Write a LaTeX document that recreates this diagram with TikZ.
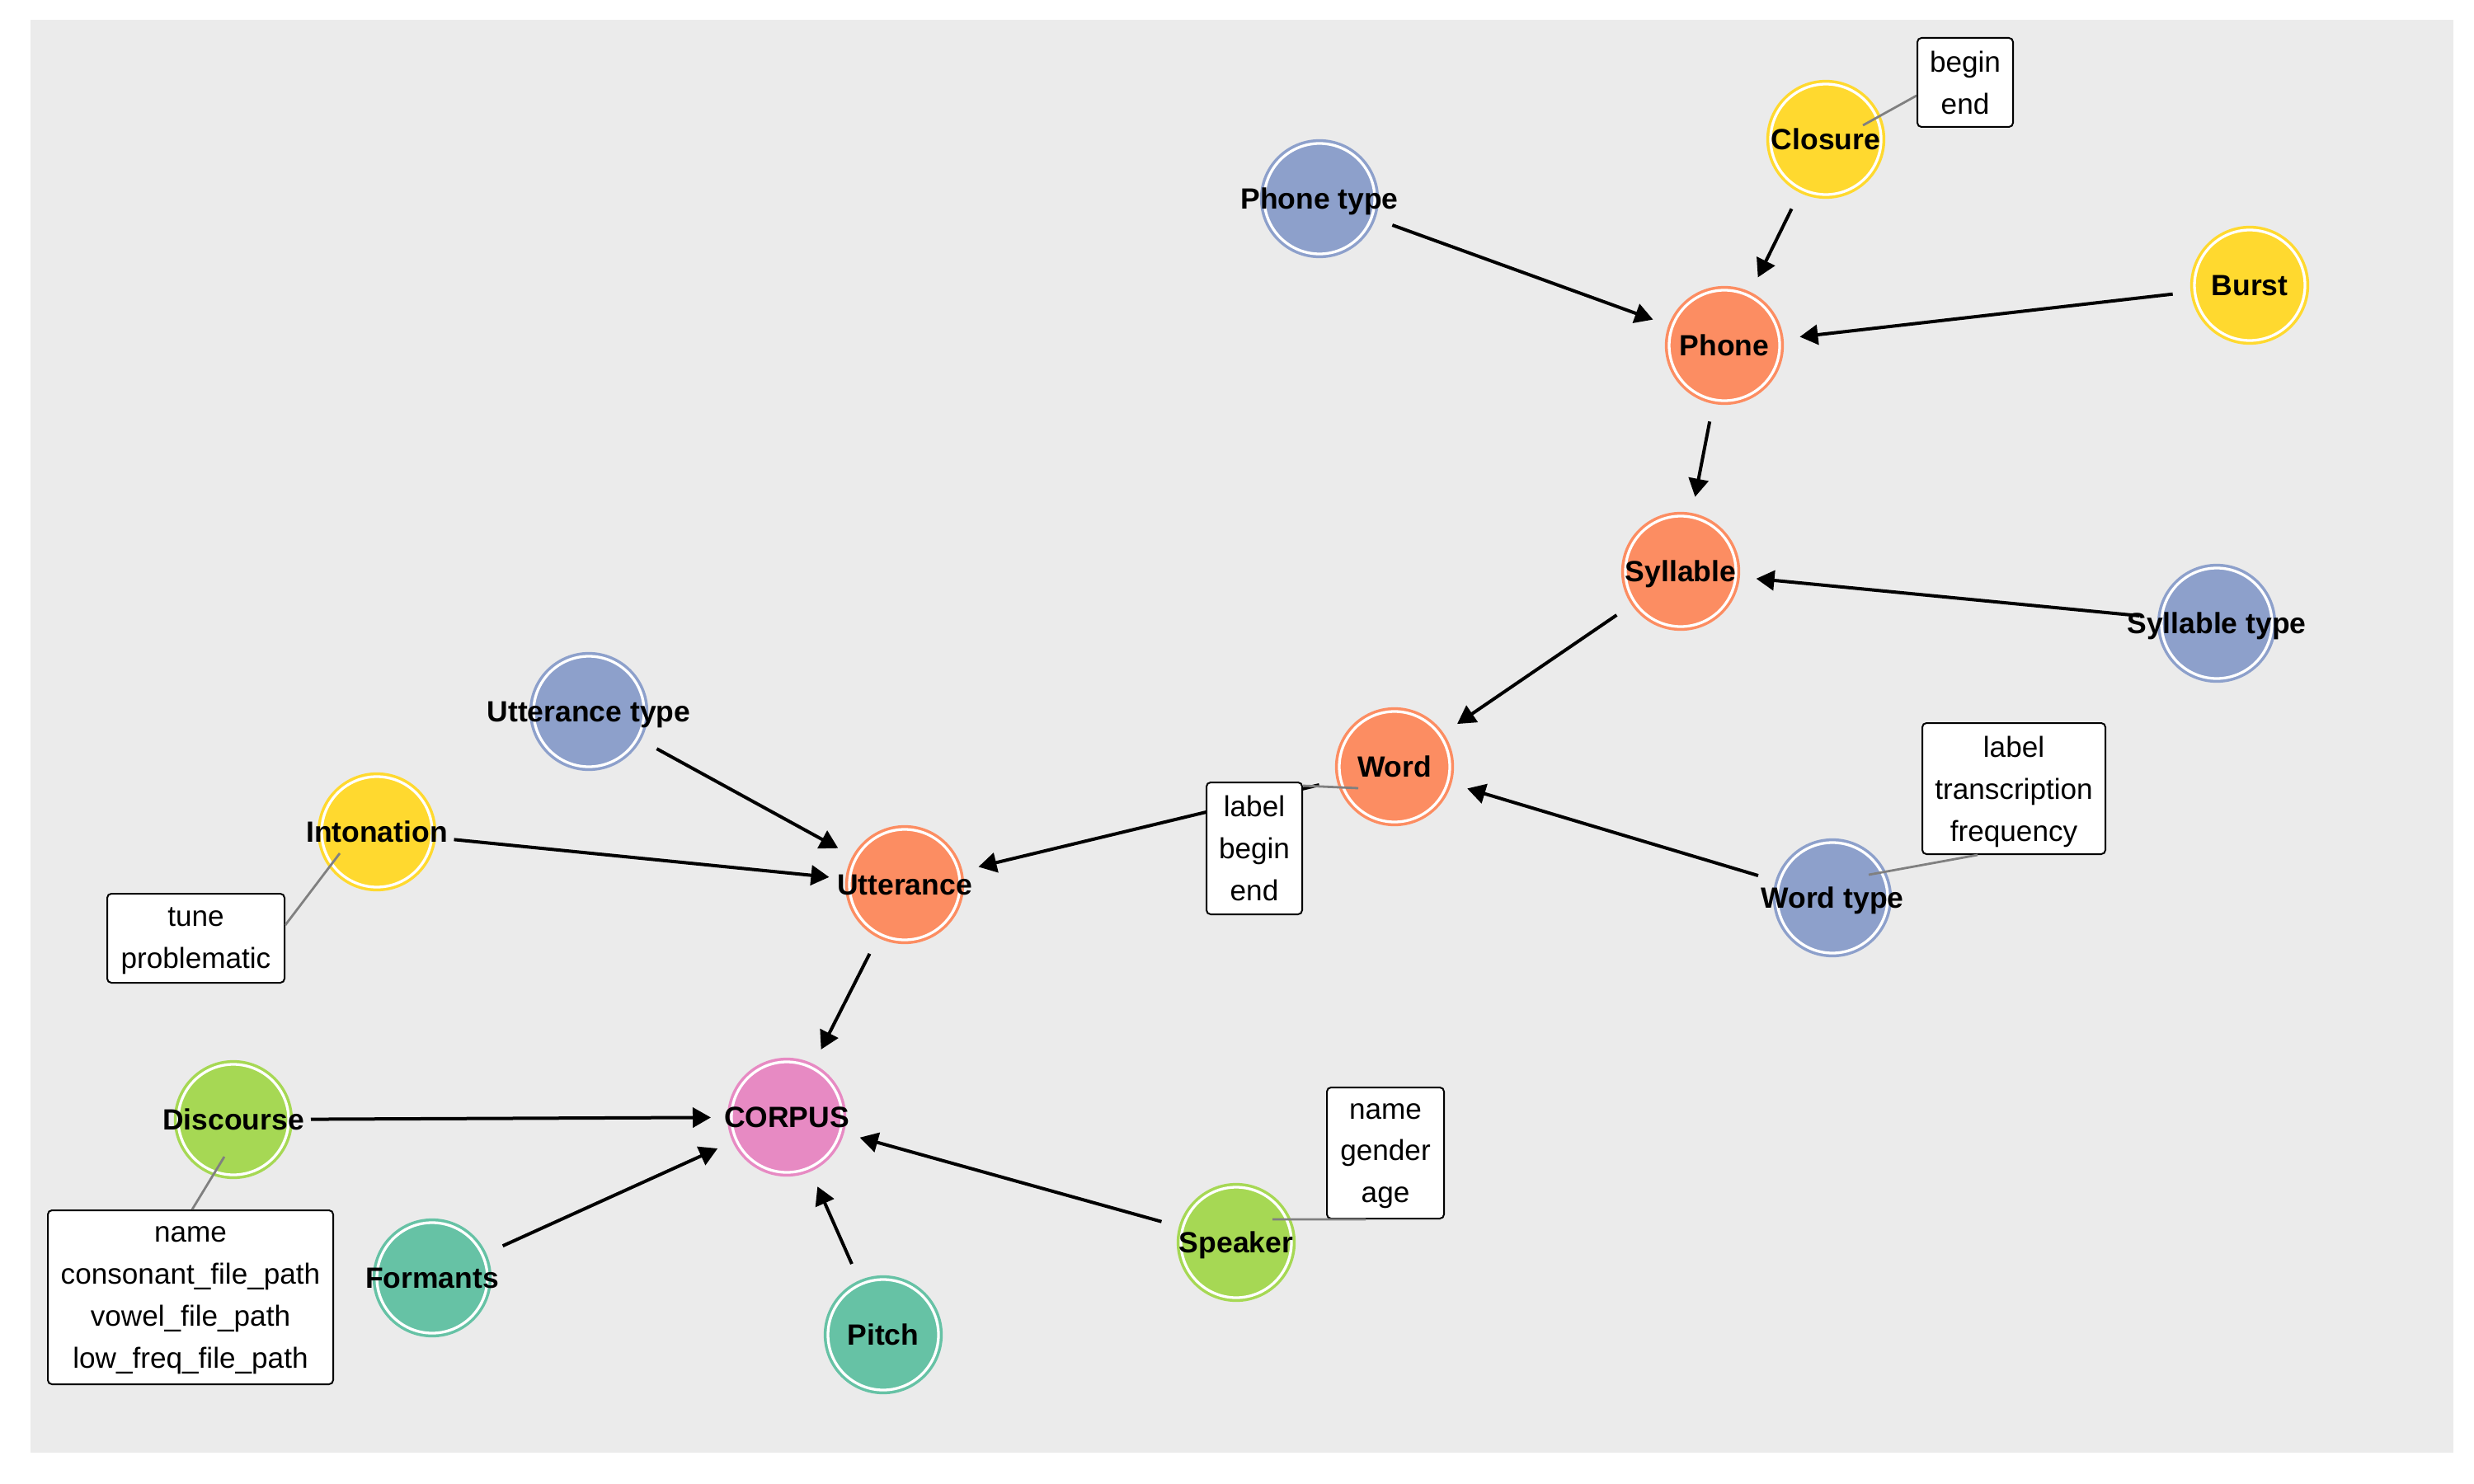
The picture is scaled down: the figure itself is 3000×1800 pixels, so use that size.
\documentclass[tikz,border=0pt]{standalone}
\usepackage{fontspec}
\setmainfont{Liberation Sans}
\usetikzlibrary{arrows.meta,calc}
\definecolor{panel}{HTML}{EBEBEB}
\definecolor{sOr}{HTML}{FC8D62}
\definecolor{sBl}{HTML}{8DA0CB}
\definecolor{sYe}{HTML}{FFD92F}
\definecolor{sGr}{HTML}{A6D854}
\definecolor{sTe}{HTML}{66C2A5}
\definecolor{sPi}{HTML}{E78AC3}
\definecolor{leadgray}{HTML}{808080}
\begin{document}
\begin{tikzpicture}[x=0.1mm,y=-0.1mm,
 ent/.style={circle,fill=#1,draw=#1,double=white,double distance=0.33mm,line width=0.35mm,minimum size=13.4mm,inner sep=0pt,outer sep=0pt},
 lbl/.style={font=\fontsize{10.1}{12}\selectfont\bfseries,inner sep=0pt,text=black,text depth=0pt},
 arr/.style={-{Triangle[length=2.2mm,width=2.4mm]},line width=0.4mm,shorten <=2.7mm,shorten >=2.5mm},
 lead/.style={draw=leadgray,line width=0.28mm},
 attr/.style={draw=black,fill=white,rounded corners=0.5mm,line width=0.2mm,align=center,inner sep=0pt,text depth=0pt,
   execute at begin node={\rule{0pt}{9.5pt}},font=\fontsize{10}{14.5}\selectfont}
]
\useasboundingbox (0,0) rectangle (3000,1800);
\fill[white] (0,0) rectangle (3000,1800);
\fill[panel] (37,24) rectangle (2975,1762);

% entity circles
\node[ent=sYe] (closure) at (2214,169) {};
\node[ent=sOr] (phone) at (2091,419) {};
\node[ent=sBl] (phonetype) at (1600,241) {};
\node[ent=sYe] (burst) at (2728,346) {};
\node[ent=sOr] (syllable) at (2038,693) {};
\node[ent=sBl] (syltype) at (2688,756) {};
\node[ent=sOr] (word) at (1691,930) {};
\node[ent=sBl] (wordtype) at (2222,1089) {};
\node[ent=sBl] (utttype) at (714,863) {};
\node[ent=sYe] (intonation) at (457,1009) {};
\node[ent=sOr] (utterance) at (1097,1073) {};
\node[ent=sPi] (corpus) at (954,1355) {};
\node[ent=sGr] (discourse) at (283,1358) {};
\node[ent=sTe] (formants) at (524,1550) {};
\node[ent=sTe] (pitch) at (1071,1619) {};
\node[ent=sGr] (speaker) at (1499,1507) {};

% arrows
\draw[arr] (closure) -- (phone);
\draw[arr] (phonetype) -- (phone);
\draw[arr] (burst) -- (phone);
\draw[arr] (phone) -- (syllable);
\draw[arr] (syltype) -- (syllable);
\draw[arr] (syllable) -- (word);
\draw[arr] (wordtype) -- (word);
\draw[arr] (word) -- (utterance);
\draw[arr] (utttype) -- (utterance);
\draw[arr] (intonation) -- (utterance);
\draw[arr] (utterance) -- (corpus);
\draw[arr] (discourse) -- (corpus);
\draw[arr] (formants) -- (corpus);
\draw[arr] (pitch) -- (corpus);
\draw[arr] (speaker) -- (corpus);

% attribute boxes
\node[attr,minimum width=11.6mm,minimum height=10.8mm] (cbox) at (2383,100) {begin\\end};
\node[attr,minimum width=11.6mm,minimum height=16mm] (wbox) at (1521,1029) {label\\begin\\end};
\node[attr,minimum width=22.2mm,minimum height=15.9mm] (wtbox) at (2442,956.5) {label\\transcription\\frequency};
\node[attr,minimum width=21.5mm,minimum height=10.8mm] (ibox) at (237.5,1138) {tune\\problematic};
\node[attr,minimum width=34.6mm,minimum height=21.1mm] (dbox) at (231,1573.5) {name\\consonant\_file\_path\\vowel\_file\_path\\low\_freq\_file\_path};
\node[attr,minimum width=14.2mm,minimum height=15.9mm] (sbox) at (1680,1398.5) {name\\gender\\age};

% leader lines
\coordinate (clA) at (2259,152);
\coordinate (woA) at (1647,956);
\coordinate (wtA) at (2266,1061);
\coordinate (inA) at (412,1035);
\coordinate (diA) at (272,1403);
\coordinate (spA) at (1543,1479);
\draw[lead] (clA) -- ([yshift=-1.6mm]cbox.west);
\draw[lead] (woA) -- ([yshift=-0.5mm]wbox.north east);
\draw[lead] (wtA) -- ([xshift=-4.4mm]wtbox.south);
\draw[lead] (inA) -- ([yshift=1.6mm]ibox.east);
\draw[lead] (diA) -- ([xshift=0.2mm]dbox.north);
\draw[lead] (spA) -- ([xshift=-2.4mm]sbox.south);

% labels
\node[lbl] (closure-l) at (closure) {Closure};
\node[lbl] (phone-l) at (phone) {Phone};
\node[lbl] (phonetype-l) at (phonetype) {Phone type};
\node[lbl] (burst-l) at (burst) {Burst};
\node[lbl] (syllable-l) at (syllable) {Syllable};
\node[lbl] (syltype-l) at (syltype) {Syllable type};
\node[lbl] (word-l) at (word) {Word};
\node[lbl] (wordtype-l) at (wordtype) {Word type};
\node[lbl] (utttype-l) at (utttype) {Utterance type};
\node[lbl] (intonation-l) at (intonation) {Intonation};
\node[lbl] (utterance-l) at (utterance) {Utterance};
\node[lbl] (corpus-l) at (corpus) {CORPUS};
\node[lbl] (discourse-l) at (discourse) {Discourse};
\node[lbl] (formants-l) at (formants) {Formants};
\node[lbl] (pitch-l) at (pitch) {Pitch};
\node[lbl] (speaker-l) at (speaker) {Speaker};
\end{tikzpicture}
\end{document}
